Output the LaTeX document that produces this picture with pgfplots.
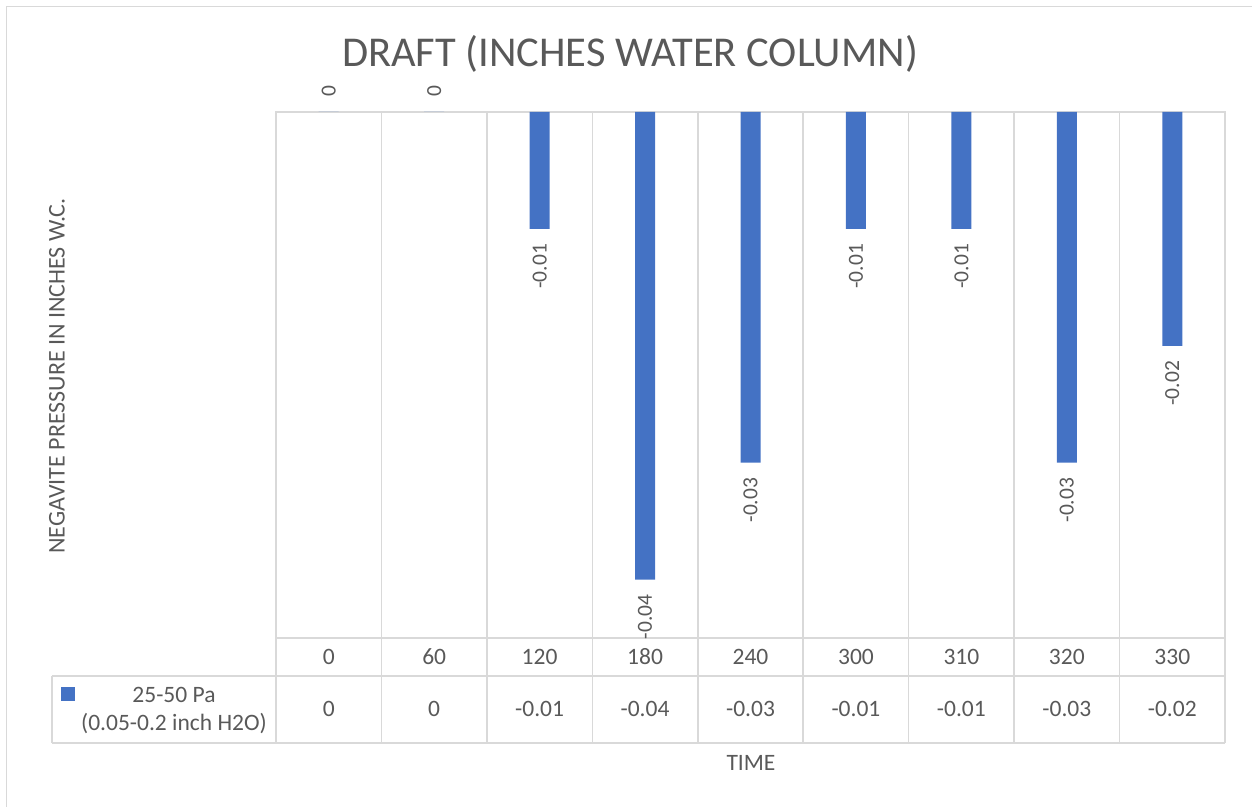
\documentclass[border=0pt]{standalone}
\usepackage{pgfplots}
\pgfplotsset{compat=1.18}
\usepackage{pgfplotstable}
\usepackage{fontspec}
\setmainfont{Carlito}
\definecolor{txt}{HTML}{595959}
\definecolor{gridc}{HTML}{D9D9D9}
\definecolor{barc}{HTML}{4472C4}
\pgfplotstableread{
x time val
0 0 0
1 60 0
2 120 -0.01
3 180 -0.04
4 240 -0.03
5 300 -0.01
6 310 -0.01
7 320 -0.03
8 330 -0.02
}\data
\begin{document}
\begin{tikzpicture}[x=1pt,y=1pt]
\begin{axis}[
  scale only axis, width=949pt, height=526pt,
  xmin=-0.5, xmax=8.5, ymin=-0.045, ymax=0,
  axis line style={gridc, line width=1.5pt},
  ytick=\empty,
  xtick={0,...,8},
  xticklabels from table={\data}{time},
  major tick length=0pt, minor tick length=0pt,
  minor xtick={-0.5,0.5,...,8.5},
  xminorgrids=true, xmajorgrids=false,
  minor x grid style={gridc, line width=1.5pt},
  x tick label style={font=\fontsize{23.5}{28}\selectfont, text=txt, anchor=center, yshift=-19pt},
  extra x ticks={0,...,8},
  extra x tick style={grid=none, xticklabel={\pgfplotstablegetelem{\ticknum}{val}\of\data\pgfplotsretval}, x tick label style={yshift=-52pt}},
  clip=false,
]
\addplot[ybar, bar width=20pt, bar shift=0pt, fill=barc, draw=none,
  visualization depends on={rawy \as \rawy},
  nodes near coords={\pgfmathprintnumber[fixed, precision=2, assume math mode=true]{\pgfplotspointmeta}},
  nodes near coords style={font=\fontsize{21.5}{26}\selectfont, text=txt, rotate=90,
     anchor={\ifdim\rawy pt<0pt east\else west\fi}, inner xsep=15pt, inner ysep=0pt},
] table[x=x, y=val] {\data};
\coordinate (NW) at (rel axis cs:0,1);
\end{axis}
\begin{scope}[shift={(NW)}]
\begin{scope}[xshift=-276pt, yshift=112pt]
\draw[gridc, line width=1.5pt] (6.5,-810) -- (6.5,-6.5) -- (1260,-6.5);
\foreach \i in {0,...,9} {
  \draw[gridc, line width=1.5pt] (276+\i*105.444,-638) -- (276+\i*105.444,-743);
}
\draw[gridc, line width=1.5pt] (52,-676) -- (1225,-676);
\draw[gridc, line width=1.5pt] (52,-743) -- (1225,-743);
\draw[gridc, line width=1.5pt] (52,-676) -- (52,-743);
\fill[barc] (61,-687) rectangle (75,-701);
\node[font=\fontsize{23.5}{28}\selectfont, text=txt, anchor=base] at (174,-702) {25-50 Pa};
\node[font=\fontsize{23.5}{28}\selectfont, text=txt, anchor=base] at (174,-730) {(0.05-0.2 inch H2O)};
\node[font=\fontsize{42.5}{50}\selectfont, text=txt, anchor=base] at (630,-67) {DRAFT (INCHES WATER COLUMN)};
\node[font=\fontsize{23.5}{28}\selectfont, text=txt, anchor=base] at (751,-770) {TIME};
\node[font=\fontsize{24}{28}\selectfont, text=txt, rotate=90, anchor=center] at (57,-376) {NEGAVITE PRESSURE IN INCHES W.C.};
\pgfresetboundingbox
\useasboundingbox (0,0) rectangle (1252,-806);
\end{scope}
\end{scope}
\end{tikzpicture}
\end{document}
